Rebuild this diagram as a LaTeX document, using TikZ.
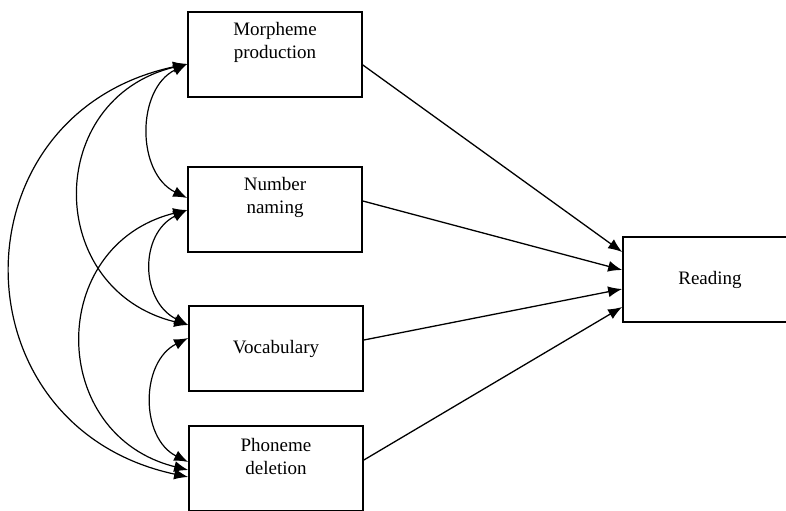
\documentclass[tikz,border=0pt]{standalone}
\usepackage{fontspec}
\setmainfont{Liberation Serif}
\usetikzlibrary{arrows.meta, positioning, calc}

\begin{document}
\begin{tikzpicture}[x=0.5pt, y=0.5pt,
    box/.style={draw, line width=0.85pt, minimum width=87pt, minimum height=42.5pt, inner sep=0pt},
    lbl/.style={align=center, font=\fontsize{9.5}{11.5}\selectfont},
    regr/.style={line width=0.65pt, -{Latex[length=7pt, width=5.5pt]}},
    cov/.style={line width=0.6pt, {Latex[length=7pt, width=5.5pt]}-{Latex[length=7pt, width=5.5pt]}}]
  \useasboundingbox (0,0) rectangle (786,510);
  \clip (0,0) rectangle (786,510);
  \node[box] (morph) at (275,455.5) {};
  \node[lbl] (morphtxt) at ($(morph.north)+(0,-31)$) {Morpheme\\production};
  \node[box] (number) at (275,300.5) {};
  \node[lbl] (numbertxt) at ($(number.north)+(0,-31)$) {Number\\naming};
  \node[box, lbl] (vocab) at (276,161.5) {Vocabulary};
  \node[box] (phon) at (276,41.5) {};
  \node[lbl] (phontxt) at ($(phon.north)+(0,-31)$) {Phoneme\\deletion};
  \node[box, lbl] (read) at (710,230.5) {Reading};
  \draw[regr] ($(morph.east)+(0,-10.5)$) -- ($(read.west)+(0,27.5)$);
  \draw[regr] ($(number.east)+(0,8.5)$) -- ($(read.west)+(0,9.5)$);
  \draw[regr] ($(vocab.east)+(0,8.5)$) -- ($(read.west)+(0,-9.5)$);
  \draw[regr] ($(phon.east)+(0,8.5)$) -- ($(read.west)+(0,-27.5)$);
  \draw[cov] ($(morph.west)+(0,-9.5)$) .. controls +(-51,-25) and +(-51,25) .. ($(number.west)+(0,11.5)$);
  \draw[cov] ($(morph.west)+(0,-9.5)$) .. controls +(-144,-35) and +(-144,35) .. ($(vocab.west)+(0,23.5)$);
  \draw[cov] ($(morph.west)+(0,-9.5)$) .. controls +(-235,-50) and +(-235,50) .. ($(phon.west)+(0,-8.5)$);
  \draw[cov] ($(number.west)+(0,-0.5)$) .. controls +(-48,-24) and +(-48,24) .. ($(vocab.west)+(0,23.5)$);
  \draw[cov] ($(number.west)+(0,-0.5)$) .. controls +(-141,-35) and +(-141,35) .. ($(phon.west)+(0,-1.5)$);
  \draw[cov] ($(vocab.west)+(0,10.5)$) .. controls +(-48,-24) and +(-48,24) .. ($(phon.west)+(0,6.5)$);
\end{tikzpicture}
\end{document}
